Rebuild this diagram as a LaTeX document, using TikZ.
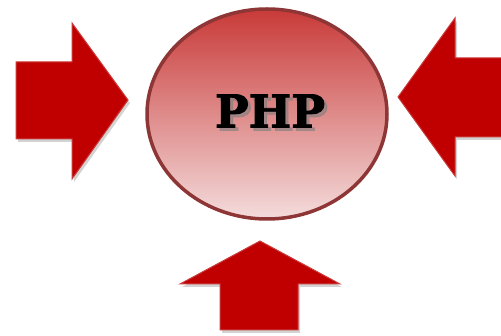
\documentclass[tikz,border=0pt]{standalone}
\usepackage{fontspec}
\newfontfamily\slabfont[FakeBold=2]{DejaVu Serif}
\usepackage{tikz}
\usetikzlibrary{shapes.geometric}
\usetikzlibrary{shadows}
\definecolor{arrowred}{HTML}{C00000}
\definecolor{arrowedge}{HTML}{CC3B3B}
\definecolor{balledge}{HTML}{8E3535}
\definecolor{balltop}{HTML}{C83A38}
\definecolor{ballmid}{HTML}{D77474}
\definecolor{ballbottom}{HTML}{F4DCDC}
\tikzset{
  bigarrow/.style={fill=arrowred, draw=arrowedge, line width=1pt, line join=miter,
    drop shadow={opacity=0.35, shadow xshift=2pt, shadow yshift=-3pt}},
  phpball/.style={ellipse, draw=balledge, line width=3.5pt, minimum width=240pt,
    minimum height=210pt, inner sep=0pt, top color=balltop, middle color=ballmid,
    bottom color=ballbottom},
  phptext/.style={font=\slabfont\bfseries\fontsize{45}{45}\selectfont, inner sep=0pt}
}
\begin{document}
\begin{tikzpicture}[x=1pt,y=-1pt]
    \useasboundingbox (0,0) rectangle (501,336);
    \draw[bigarrow] (16,62) -- (72,62) -- (72,23) -- (128,100) -- (72,179) -- (72,139) -- (16,139) -- cycle;
    \draw[bigarrow] (506,58) -- (455,58) -- (455,18) -- (398,97) -- (455,176) -- (455,137) -- (506,137) -- cycle;
    \draw[bigarrow] (260,241) -- (340,284) -- (298,284) -- (298,330) -- (220,330) -- (220,284) -- (180,284) -- cycle;
    \node[phpball] (php) at (267,114) {};
    \node[phptext, text=black!50, opacity=0.6] (php-shadow) at ([xshift=6pt,yshift=0pt]php.center) {PHP};
    \node[phptext] (php-label) at ([xshift=3pt,yshift=3pt]php.center) {PHP};
  \end{tikzpicture}
\end{document}
